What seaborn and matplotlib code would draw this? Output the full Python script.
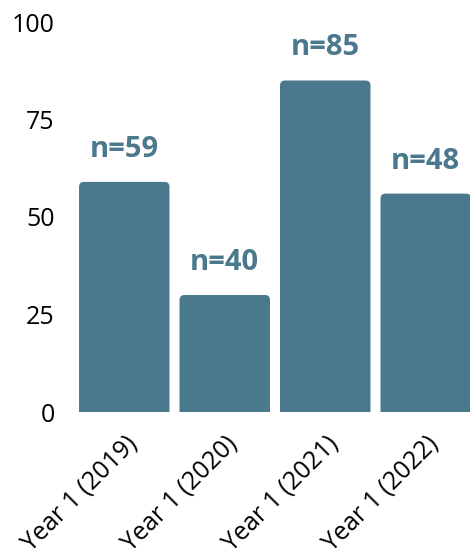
import matplotlib
matplotlib.use("Agg")
import matplotlib.pyplot as plt
from matplotlib.patches import FancyBboxPatch
import seaborn as sns
import pandas as pd

# Cohort labels, bar heights and the sample size shown above each bar
cohorts = ["Year 1 (2019)", "Year 1 (2020)", "Year 1 (2021)", "Year 1 (2022)"]
values = [59, 30, 85, 56]
counts = [59, 40, 85, 48]
yticks = [0, 25, 50, 75, 100]

BAR_COLOR = "#4a788c"

sns.set_theme(style="white")
plt.rcParams["font.family"] = ["Open Sans", "DejaVu Sans"]

df = pd.DataFrame({"cohort": cohorts, "value": values})

fig = plt.figure(figsize=(4.70, 5.58), dpi=100)
W, H = 470, 558
ax = fig.add_axes([74 / W, (H - 412) / H, 402 / W, (412 - 22) / H])

sns.barplot(data=df, x="cohort", y="value", color=BAR_COLOR, saturation=1,
            width=0.9, ax=ax)

ax.set_xlim(-0.5, 3.5)
ax.set_ylim(0, 100)

# swap the plain rectangles for ones with rounded top corners
x_px = 402 / 4.0          # pixels per x unit
y_px = 390 / 100.0        # pixels per y unit
r = 5 / x_px              # corner radius in x units
aspect = (5 / y_px) / r
for p in list(ax.patches):
    x0, w, h = p.get_x(), p.get_width(), p.get_height()
    ext = r * aspect
    fb = FancyBboxPatch((x0, -ext), w, h + ext,
                        boxstyle=f"round,pad=0,rounding_size={r}",
                        mutation_aspect=aspect, facecolor=BAR_COLOR,
                        edgecolor="none", linewidth=0, clip_on=True)
    ax.add_patch(fb)
    p.set_visible(False)

for i, (v, n) in enumerate(zip(values, counts)):
    ax.annotate(f"n={n}", xy=(i, v), xytext=(0, 13), textcoords="offset points",
                ha="center", va="bottom", fontsize=21, fontweight="bold",
                color=BAR_COLOR)

ax.set_yticks(yticks)
ax.set_yticklabels([str(t) for t in yticks], fontsize=18, color="black")
ax.tick_params(axis="y", length=0, pad=14)
ax.tick_params(axis="x", length=0, pad=14)
ax.set_xticks(range(len(cohorts)))
ax.set_xticklabels(cohorts, fontsize=18, color="black", rotation=45,
                   ha="right", va="top", rotation_mode="anchor")
ax.set_xlabel("")
ax.set_ylabel("")
sns.despine(ax=ax, left=True, bottom=True)
ax.grid(False)

fig.savefig("out.png", dpi=100)
